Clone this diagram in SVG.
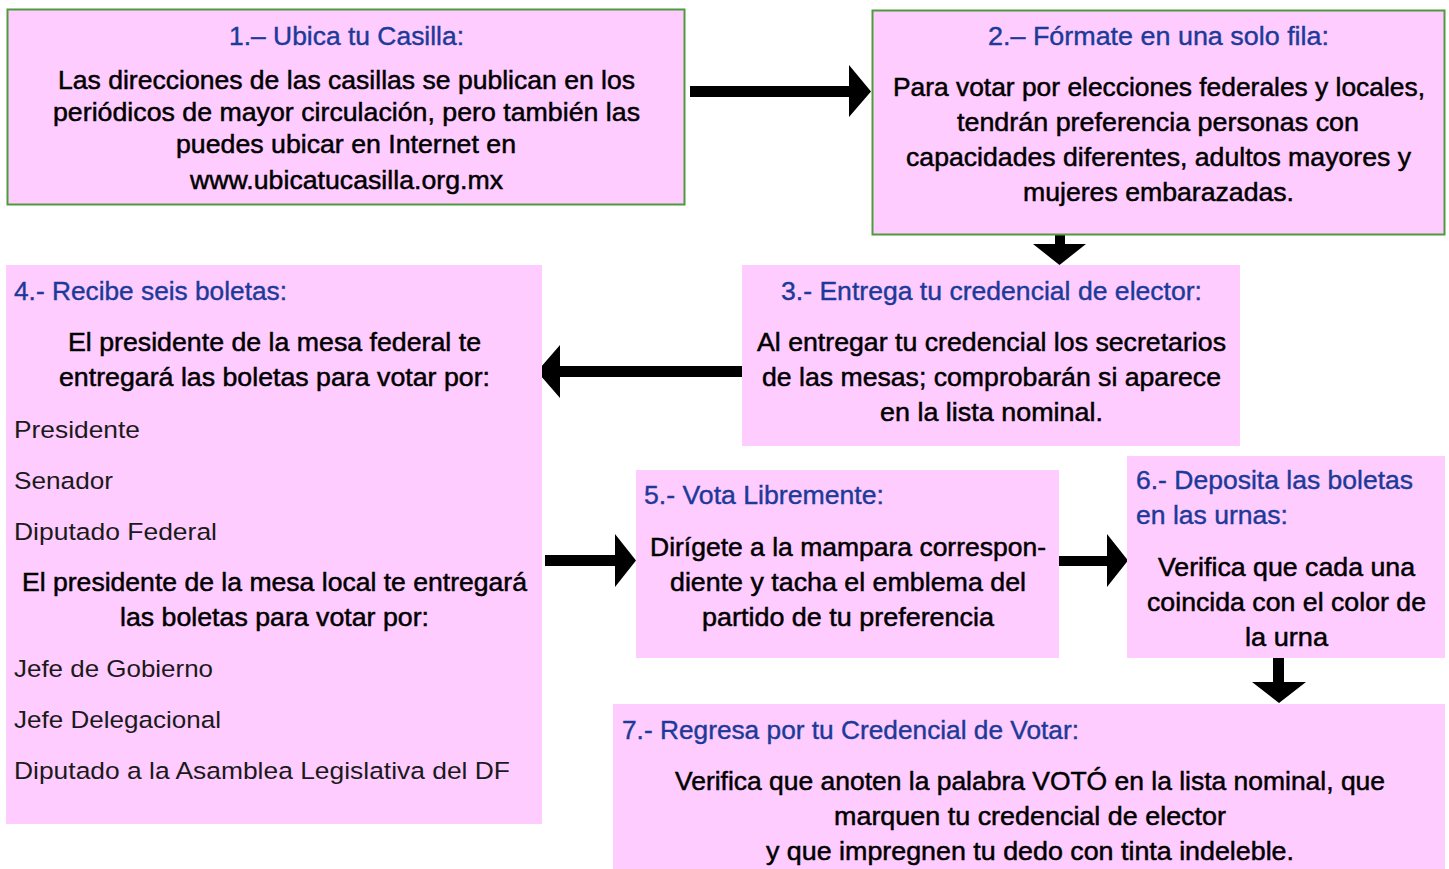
<svg xmlns="http://www.w3.org/2000/svg" width="1449" height="869" viewBox="0 0 1449 869">
<style>
.box{fill:#FFCCFF}
.bord{stroke:#4E9A3E;stroke-width:2}
text{font-family:"Liberation Sans",Arial,sans-serif;font-size:26.5px}
.t{fill:#1C3A98;stroke:#1C3A98;stroke-width:0.4}
.b{fill:#000;stroke:#000;stroke-width:0.5}
.l{fill:#1a1a1a;font-size:24.5px}
.arr{fill:#000}
</style>
<rect width="1449" height="869" fill="#fff"/>
<g id="connectors">
<polygon class="arr" points="690,86 849,86 849,65 871,91.5 849,117 849,97 690,97"/>
<polygon class="arr" points="1055,234 1065,234 1065,244 1086,244 1059.5,265 1033,244 1055,244"/>
<polygon class="arr" points="742,366 560,366 560,345 537,371.5 560,398 560,377 742,377"/>
<polygon class="arr" points="545,555 615,555 615,534 636,560.5 615,587 615,566 545,566"/>
<polygon class="arr" points="1059,556 1107,556 1107,534 1128,560.5 1107,587 1107,566 1059,566"/>
<polygon class="arr" points="1273,658 1284,658 1284,682 1306,682 1279,703 1252,682 1273,682"/>
</g>
<g id="node1">
<rect class="box bord" x="7.5" y="9.5" width="677" height="195"/>
<text class="t" x="229" y="45" textLength="235" lengthAdjust="spacingAndGlyphs">1.– Ubica tu Casilla:</text>
<text class="b" x="58" y="89" textLength="577" lengthAdjust="spacingAndGlyphs">Las direcciones de las casillas se publican en los</text>
<text class="b" x="53" y="121" textLength="587" lengthAdjust="spacingAndGlyphs">periódicos de mayor circulación, pero también las</text>
<text class="b" x="176" y="153" textLength="340" lengthAdjust="spacingAndGlyphs">puedes ubicar en Internet en</text>
<text class="b" x="190" y="189" textLength="313" lengthAdjust="spacingAndGlyphs">www.ubicatucasilla.org.mx</text>
</g>
<g id="node2">
<rect class="box bord" x="872.5" y="10.5" width="572" height="224"/>
<text class="t" x="988" y="45" textLength="341" lengthAdjust="spacingAndGlyphs">2.– Fórmate en una solo fila:</text>
<text class="b" x="893" y="96" textLength="532" lengthAdjust="spacingAndGlyphs">Para votar por elecciones federales y locales,</text>
<text class="b" x="957" y="131" textLength="402" lengthAdjust="spacingAndGlyphs">tendrán preferencia personas con</text>
<text class="b" x="906" y="166" textLength="505" lengthAdjust="spacingAndGlyphs">capacidades diferentes, adultos mayores y</text>
<text class="b" x="1023" y="201" textLength="271" lengthAdjust="spacingAndGlyphs">mujeres embarazadas.</text>
</g>
<g id="node3">
<rect class="box" x="742" y="265" width="498" height="181"/>
<text class="t" x="781" y="300" textLength="421" lengthAdjust="spacingAndGlyphs">3.- Entrega tu credencial de elector:</text>
<text class="b" x="757" y="351" textLength="469" lengthAdjust="spacingAndGlyphs">Al entregar tu credencial los secretarios</text>
<text class="b" x="762" y="386" textLength="459" lengthAdjust="spacingAndGlyphs">de las mesas; comprobarán si aparece</text>
<text class="b" x="880" y="421" textLength="223" lengthAdjust="spacingAndGlyphs">en la lista nominal.</text>
</g>
<g id="node4">
<rect class="box" x="6" y="265" width="536" height="559"/>
<text class="t" x="14" y="300" textLength="273" lengthAdjust="spacingAndGlyphs">4.- Recibe seis boletas:</text>
<text class="b" x="68" y="351" textLength="413" lengthAdjust="spacingAndGlyphs">El presidente de la mesa federal te</text>
<text class="b" x="59" y="386" textLength="431" lengthAdjust="spacingAndGlyphs">entregará las boletas para votar por:</text>
<text class="l" x="14" y="438" textLength="126" lengthAdjust="spacingAndGlyphs">Presidente</text>
<text class="l" x="14" y="489" textLength="99" lengthAdjust="spacingAndGlyphs">Senador</text>
<text class="l" x="14" y="540" textLength="203" lengthAdjust="spacingAndGlyphs">Diputado Federal</text>
<text class="b" x="22" y="591" textLength="505" lengthAdjust="spacingAndGlyphs">El presidente de la mesa local te entregará</text>
<text class="b" x="120" y="626" textLength="309" lengthAdjust="spacingAndGlyphs">las boletas para votar por:</text>
<text class="l" x="14" y="677" textLength="199" lengthAdjust="spacingAndGlyphs">Jefe de Gobierno</text>
<text class="l" x="14" y="728" textLength="207" lengthAdjust="spacingAndGlyphs">Jefe Delegacional</text>
<text class="l" x="14" y="779" textLength="496" lengthAdjust="spacingAndGlyphs">Diputado a la Asamblea Legislativa del DF</text>
</g>
<g id="node5">
<rect class="box" x="636" y="470" width="423" height="188"/>
<text class="t" x="644" y="504" textLength="240" lengthAdjust="spacingAndGlyphs">5.- Vota Libremente:</text>
<text class="b" x="650" y="556" textLength="396" lengthAdjust="spacingAndGlyphs">Dirígete a la mampara correspon-</text>
<text class="b" x="670" y="591" textLength="356" lengthAdjust="spacingAndGlyphs">diente y tacha el emblema del</text>
<text class="b" x="702" y="626" textLength="292" lengthAdjust="spacingAndGlyphs">partido de tu preferencia</text>
</g>
<g id="node6">
<rect class="box" x="1127" y="456" width="318" height="202"/>
<text class="t" x="1136" y="489" textLength="277" lengthAdjust="spacingAndGlyphs">6.- Deposita las boletas</text>
<text class="t" x="1136" y="524" textLength="152" lengthAdjust="spacingAndGlyphs">en las urnas:</text>
<text class="b" x="1158" y="576" textLength="257" lengthAdjust="spacingAndGlyphs">Verifica que cada una</text>
<text class="b" x="1147" y="611" textLength="279" lengthAdjust="spacingAndGlyphs">coincida con el color de</text>
<text class="b" x="1245" y="646" textLength="83" lengthAdjust="spacingAndGlyphs">la urna</text>
</g>
<g id="node7">
<rect class="box" x="613" y="704" width="832" height="165"/>
<text class="t" x="622" y="739" textLength="457" lengthAdjust="spacingAndGlyphs">7.- Regresa por tu Credencial de Votar:</text>
<text class="b" x="675" y="790" textLength="710" lengthAdjust="spacingAndGlyphs">Verifica que anoten la palabra VOTÓ en la lista nominal, que</text>
<text class="b" x="834" y="825" textLength="392" lengthAdjust="spacingAndGlyphs">marquen tu credencial de elector</text>
<text class="b" x="766" y="860" textLength="528" lengthAdjust="spacingAndGlyphs">y que impregnen tu dedo con tinta indeleble.</text>
</g>
</svg>
